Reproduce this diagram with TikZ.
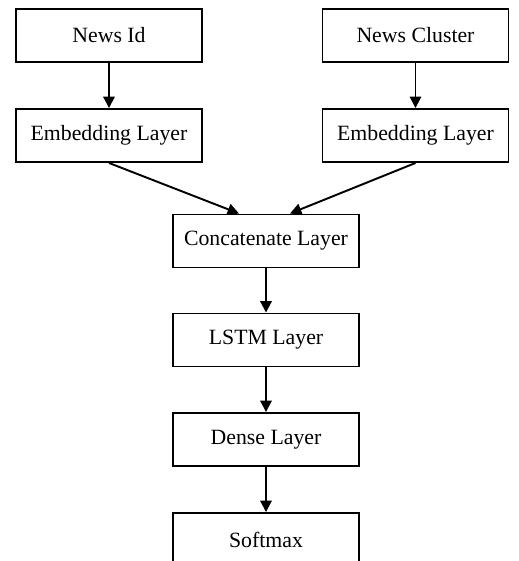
\documentclass[tikz,border=0pt]{standalone}
\usepackage{fontspec}
\setmainfont{Liberation Serif}
\usetikzlibrary{positioning, arrows.meta}

\tikzset{
  layer/.style={draw, line width=1.1pt, minimum width=3.72cm, minimum height=1.06cm,
    inner sep=0pt, font=\fontsize{12.4}{15}\selectfont},
  flow/.style={line width=1.1pt, -{Triangle[width=6.5pt,length=6.5pt]}}
}

\begin{document}
\begin{tikzpicture}[x=0.02cm,y=-0.02cm]
\useasboundingbox (0,0) rectangle (519,561);
\clip (0,0) rectangle (519,561);
% inputs
\node[layer] (newsid) at (109,35.5) {News Id};
\node[layer] (cluster) at (415.5,35.5) {News Cluster};
\node[layer] (embL) at (109,135.5) {Embedding Layer};
\node[layer] (embR) at (415.5,135.5) {Embedding Layer};
% main stack
\node[layer] (concat) at (266,241) {Concatenate Layer};
\node[layer] (lstm) at (266,340) {LSTM Layer};
\node[layer] (dense) at (266,439.5) {Dense Layer};
\node[layer] (softmax) at (266,539.5) {Softmax};

\draw[flow] (newsid) -- (embL);
\draw[flow] (cluster) -- (embR);
\draw[flow] (embL.south) -- ([xshift=-0.54cm]concat.north);
\draw[flow] (embR.south) -- ([xshift=0.48cm]concat.north);
\draw[flow] (concat) -- (lstm);
\draw[flow] (lstm) -- (dense);
\draw[flow] (dense) -- (softmax);
\end{tikzpicture}
\end{document}
